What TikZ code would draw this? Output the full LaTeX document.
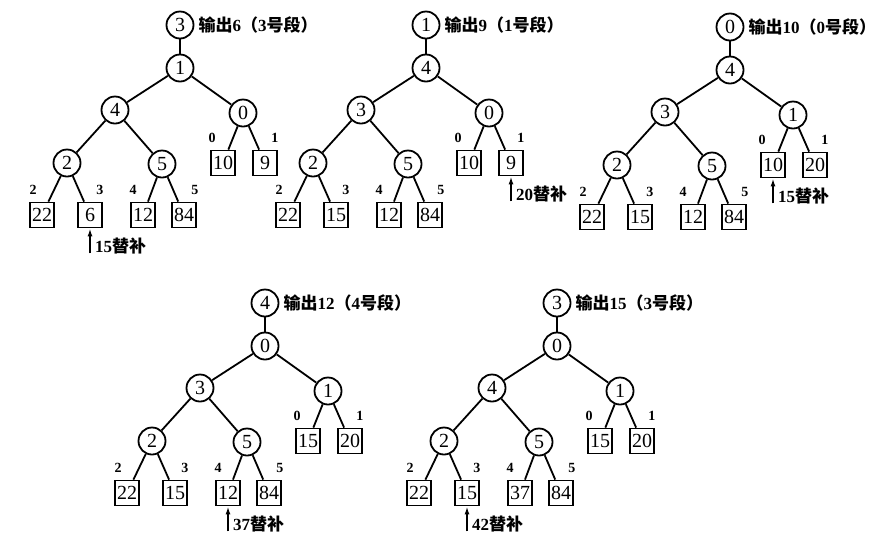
\documentclass[tikz,border=0pt]{standalone}
\usepackage{fontspec}
\setmainfont{Liberation Serif}
\newfontfamily\cjk{Noto Sans CJK SC}
\usetikzlibrary{arrows.meta,calc}
\newcommand\zhtxt[1]{{\cjk\bfseries #1}}
\tikzset{
  cnode/.style={circle,draw,line width=1.8pt,minimum size=27pt,inner sep=0pt,font=\fontsize{20}{20}\selectfont},
  bnode/.style={rectangle,draw,line width=1.8pt,minimum width=24pt,minimum height=25pt,inner sep=0pt,font=\fontsize{20}{20}\selectfont},
  idx/.style={font=\bfseries\fontsize{14}{14}\selectfont,inner sep=0pt},
  edgeln/.style={line width=1.8pt},
  captext/.style={font=\fontsize{17}{17}\selectfont,inner sep=0pt},
  arr/.style={line width=1.8pt,-{Latex[length=8pt,width=5pt]}},
}
% #1 prefix, #2 position, #3 box with arrow, #4 arrow label
\newcommand\mytree[4]{%
  \begin{scope}[shift={#2}]
    \node[cnode] (#1t) at (0,0) {\vTop};
    \node[cnode] (#1r) at (0,43) {\vRoot};
    \node[cnode] (#1a) at (-65,85) {\vA};
    \node[cnode] (#1b) at (63,88) {\vB};
    \node[cnode] (#1c) at (-113,138) {\vC};
    \node[cnode] (#1d) at (-18,139) {\vD};
    \node[bnode] (#1b0) at (43,138) {\vbA};
    \node[bnode] (#1b1) at (85,138) {\vbB};
    \node[bnode] (#1b2) at (-138,190) {\vbC};
    \node[bnode] (#1b3) at (-90,190) {\vbD};
    \node[bnode] (#1b4) at (-37,190) {\vbE};
    \node[bnode] (#1b5) at (4,190) {\vbF};
    \draw[edgeln] (#1t) -- (#1r);
    \draw[edgeln] (#1r) -- (#1a);
    \draw[edgeln] (#1r) -- (#1b);
    \draw[edgeln] (#1a) -- (#1c);
    \draw[edgeln] (#1a) -- (#1d);
    \draw[edgeln] (#1b) -- (#1b0);
    \draw[edgeln] (#1b) -- (#1b1);
    \draw[edgeln] (#1c) -- (#1b2);
    \draw[edgeln] (#1c) -- (#1b3);
    \draw[edgeln] (#1d) -- (#1b4);
    \draw[edgeln] (#1d) -- (#1b5);
    \node[idx] (#1i0) at ($(#1b0.north west)+(2,-12)$) {0};
    \node[idx] (#1i1) at ($(#1b1.north east)+(-3,-12)$) {1};
    \node[idx] (#1i2) at ($(#1b2.north west)+(4,-12)$) {2};
    \node[idx] (#1i3) at ($(#1b3.north east)+(-3,-12)$) {3};
    \node[idx] (#1i4) at ($(#1b4.north west)+(3,-12)$) {4};
    \node[idx] (#1i5) at ($(#1b5.north east)+(-2,-12)$) {5};
    \node[captext,anchor=west] (#1cap) at ($(#1t.east)+(4,0)$) {\vCap};
    \coordinate (#1as) at ($(#1#3.south)+(0,25)$);
    \draw[arr] (#1as) -- (#1#3.south);
    \node[captext,anchor=west] (#1al) at ($(#1as)+(5,-7)$) {#4};
  \end{scope}}
\begin{document}
\begin{tikzpicture}[x=1pt,y=-1pt]
\useasboundingbox (0,0) rectangle (885,547);
% tree 1
\def\vTop{3}\def\vRoot{1}\def\vA{4}\def\vB{0}\def\vC{2}\def\vD{5}
\def\vbA{10}\def\vbB{9}\def\vbC{22}\def\vbD{6}\def\vbE{12}\def\vbF{84}
\def\vCap{\zhtxt{输出}\textbf{6}\zhtxt{（}\textbf{3}\zhtxt{号段）}}
\mytree{p}{(180,25)}{b3}{\textbf{15}\zhtxt{替补}}
% tree 2
\def\vTop{1}\def\vRoot{4}\def\vA{3}\def\vB{0}\def\vC{2}\def\vD{5}
\def\vbA{10}\def\vbB{9}\def\vbC{22}\def\vbD{15}\def\vbE{12}\def\vbF{84}
\def\vCap{\zhtxt{输出}\textbf{9}\zhtxt{（}\textbf{1}\zhtxt{号段）}}
\mytree{q}{(426,25)}{b1}{\textbf{20}\zhtxt{替补}}
% tree 3
\def\vTop{0}\def\vRoot{4}\def\vA{3}\def\vB{1}\def\vC{2}\def\vD{5}
\def\vbA{10}\def\vbB{20}\def\vbC{22}\def\vbD{15}\def\vbE{12}\def\vbF{84}
\def\vCap{\zhtxt{输出}\textbf{10}\zhtxt{（}\textbf{0}\zhtxt{号段）}}
\mytree{s}{(730,27)}{b0}{\textbf{15}\zhtxt{替补}}
% tree 4
\def\vTop{4}\def\vRoot{0}\def\vA{3}\def\vB{1}\def\vC{2}\def\vD{5}
\def\vbA{15}\def\vbB{20}\def\vbC{22}\def\vbD{15}\def\vbE{12}\def\vbF{84}
\def\vCap{\zhtxt{输出}\textbf{12}\zhtxt{（}\textbf{4}\zhtxt{号段）}}
\mytree{u}{(265,303)}{b4}{\textbf{37}\zhtxt{替补}}
% tree 5
\def\vTop{3}\def\vRoot{0}\def\vA{4}\def\vB{1}\def\vC{2}\def\vD{5}
\def\vbA{15}\def\vbB{20}\def\vbC{22}\def\vbD{15}\def\vbE{37}\def\vbF{84}
\def\vCap{\zhtxt{输出}\textbf{15}\zhtxt{（}\textbf{3}\zhtxt{号段）}}
\mytree{w}{(557,303)}{b3}{\textbf{42}\zhtxt{替补}}
\end{tikzpicture}
\end{document}
